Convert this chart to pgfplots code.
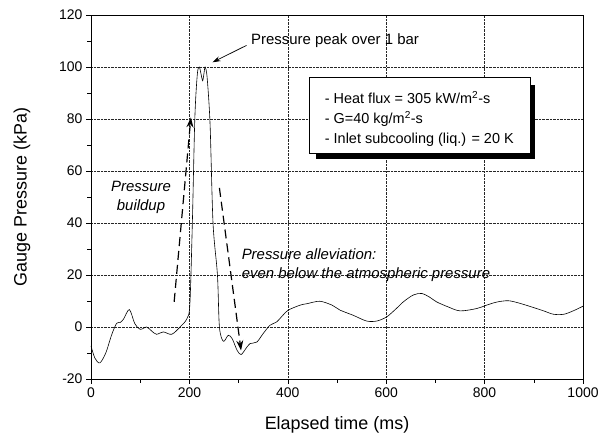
\documentclass[border=0pt]{standalone}
\usepackage{fontspec}
\setmainfont{Liberation Sans}
\usepackage{pgfplots}
\pgfplotsset{compat=1.18}
\usetikzlibrary{arrows.meta}
\begin{document}
\begin{tikzpicture}[x=1bp,y=1bp]
\useasboundingbox (-91,-59) rectangle (516,379);
\begin{axis}[
  at={(0,0)}, anchor=south west,
  scale only axis,
  width=492bp, height=364bp,
  xmin=0, xmax=1000, ymin=-20, ymax=120,
  xtick={0,200,...,1000}, ytick={-20,0,...,120},
  minor x tick num=1, minor y tick num=1,
  tick pos=left, tick align=outside,
  major tick length=5bp, minor tick length=4bp,
  grid=major,
  major grid style={black!85, densely dotted, line width=0.5pt},
  axis line style={line width=0.8pt},
  tick style={black, line width=0.6pt},
  /pgf/number format/assume math mode=true,
  /pgf/number format/set thousands separator={},
  ticklabel style={font=\fontsize{14}{16}\selectfont},
  xlabel={Elapsed time (ms)}, ylabel={Gauge Pressure (kPa)},
  label style={font=\fontsize{18}{20}\selectfont},
  xlabel style={at={(axis description cs:0.5,-0.1264)}, anchor=center},
  ylabel style={at={(axis description cs:-0.1402,0.5)}, anchor=center},
  clip=false,
]
\addplot[black, line width=0.6pt, smooth, tension=0.5] coordinates {
(0,-7.3) (8,-12) (18,-13.8) (30,-10) (42,-3) (52,1.4) (59,1.7) (66,3) (78,6.7) (89,1.3)
(100,-0.9) (113,0) (123,-1.5) (133,-2.8) (147,-1.9) (164,-2.8) (181,0) (195,3.2) (201,9)
(206,40) (211,80) (216,97) (220,100) (224,97) (227,94.7) (230,98) (232,100) (236,96)
(242,78) (248,40) (257,20) (261,0) (269,-5.5) (279,-3.2) (287,-4.5) (297,-9) (305,-10.6)
(314,-8.5) (323,-6.4) (337,-5.8) (350,-2.5) (364,0.7) (377,1.9) (390,4.5) (401,6.5)
(425,8.4) (440,9) (465,9.9) (490,8.4) (506,6.5) (533,4.5) (560,2.3) (581,2.3) (601,3.9)
(620,7) (635,9.7) (655,12.3) (672,12.9) (688,11.5) (702,9.7) (725,7.8) (750,6.2)
(784,7.1) (804,8.4) (825,9.6) (848,10.1) (870,9.2) (899,7.5) (920,6.2) (940,4.9)
(961,4.9) (980,6.2) (1000,8)
};
% annotations
\draw[-{Stealth[length=10bp,width=7bp]}, black, line width=1.2pt, dash pattern=on 9bp off 5bp]
  (axis cs:169,9.7) -- (axis cs:203,80.6);
\draw[-{Stealth[length=10bp,width=7bp]}, black, line width=1.2pt, dash pattern=on 9bp off 5bp]
  (axis cs:261,53.5) -- (axis cs:305,-9);
\draw[-{Stealth[length=8bp,width=5bp]}, black, line width=0.7pt]
  (axis cs:316,108.3) -- (axis cs:247,101.8);
\node[anchor=west, font=\fontsize{15}{17}\selectfont, inner sep=1bp] at (axis cs:323,110) {Pressure peak over 1 bar};
\node[align=center, font=\itshape\fontsize{15}{19}\selectfont] at (axis cs:101.6,50) {Pressure\\buildup};
\node[align=left, anchor=west, inner sep=0pt, font=\itshape\fontsize{15}{19}\selectfont] at (axis cs:306,23.7) {Pressure alleviation:\\even below the atmospheric pressure};
\fill[black] (axis cs:458,64.5) rectangle (axis cs:903,93);
\draw[black, fill=white, line width=0.6pt] (axis cs:444,66.8) rectangle (axis cs:892,96);
\node[align=left, anchor=west, inner sep=0pt, font=\fontsize{14.5}{20}\selectfont] at (axis cs:475,80)
 {- Heat flux = 305 kW/m\textsuperscript{2}-s\\- G=40 kg/m\textsuperscript{2}-s\\- Inlet subcooling (liq.) = 20 K};
\end{axis}
\end{tikzpicture}
\end{document}
